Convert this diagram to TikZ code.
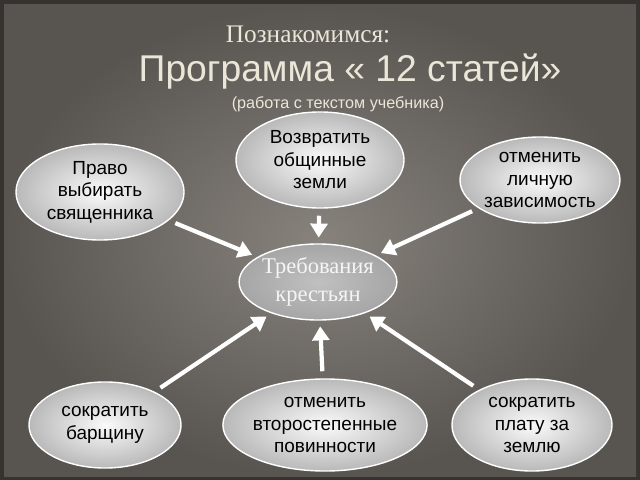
\documentclass[tikz,border=0pt]{standalone}
\usepackage{fontspec}
\setmainfont{Liberation Serif}
\setsansfont{Liberation Sans}
\usetikzlibrary{arrows.meta,shapes.geometric}
\definecolor{bgmid}{RGB}{135,130,124}
\definecolor{bgedge}{RGB}{88,84,80}
\definecolor{titlecol}{RGB}{235,230,216}
\definecolor{ovalin}{RGB}{250,250,250}
\definecolor{ovalout}{RGB}{185,185,185}
\tikzset{
  wish/.style={ellipse, draw=white, line width=1pt, inner color=ovalin, outer color=ovalout,
    minimum width=#1, align=center, font=\sffamily\fontsize{13.5}{16}\selectfont, inner sep=0pt},
  wish/.default=4.2cm,
  demand/.style={ellipse, draw=white, line width=1pt, inner color=ovalout!90, outer color=gray!70,
    minimum width=3.9cm, minimum height=1.9cm, align=center, text=white!92!gray,
    font=\fontsize{16}{20}\selectfont, inner sep=0pt},
  push/.style={draw=white, line width=3pt, -{Triangle[length=10pt,width=12pt]},
    shorten <=5pt, shorten >=4pt}
}
\begin{document}
\begin{tikzpicture}[x=0.025cm,y=-0.025cm]
\useasboundingbox (0,0) rectangle (640,480);
\fill[bgedge!60!black] (0,0) rectangle (640,480);
\fill[inner color=bgmid, outer color=bgedge] (4,4) rectangle (636,476);
% title
\node[text=titlecol, font=\fontsize{18}{20}\selectfont] (hello) at (308,34) {Познакомимся:};
\node[text=titlecol, font=\sffamily\fontsize{26.5}{30}\selectfont] (title) at (350,72) {Программа « 12 статей»};
\node[text=titlecol, font=\sffamily\fontsize{11.5}{13}\selectfont] (book) at (338,104) {(работа с текстом учебника)};
% ovals
\node[demand]           (treb)  at (318,282) {Требования\\крестьян};
\node[wish, minimum height=2.4cm] (zeml) at (320,160) {Возвратить\\общинные\\ земли};
\node[wish, minimum height=2.4cm] (prav) at (100,192) {Право\\ выбирать\\священника};
\node[wish=4cm, minimum height=2.15cm] (lich) at (540,180) {отменить\\личную\\ зависимость};
\node[wish=3.8cm, minimum height=2.15cm] (barsh) at (105,425) {сократить\\барщину};
\node[wish=4cm, minimum height=2.3cm] (povin) at (325,425) {отменить\\второстепенные\\повинности};
\node[wish=4cm, minimum height=2.3cm] (plat) at (532,425) {сократить\\плату за\\ землю};
% arrows
\draw[push] (prav) -- (treb);
\draw[push] (zeml) -- (treb);
\draw[push] (lich) -- (treb);
\draw[push] (barsh) -- (treb);
\draw[push] (povin) -- (treb);
\draw[push] (plat) -- (treb);
\end{tikzpicture}
\end{document}
